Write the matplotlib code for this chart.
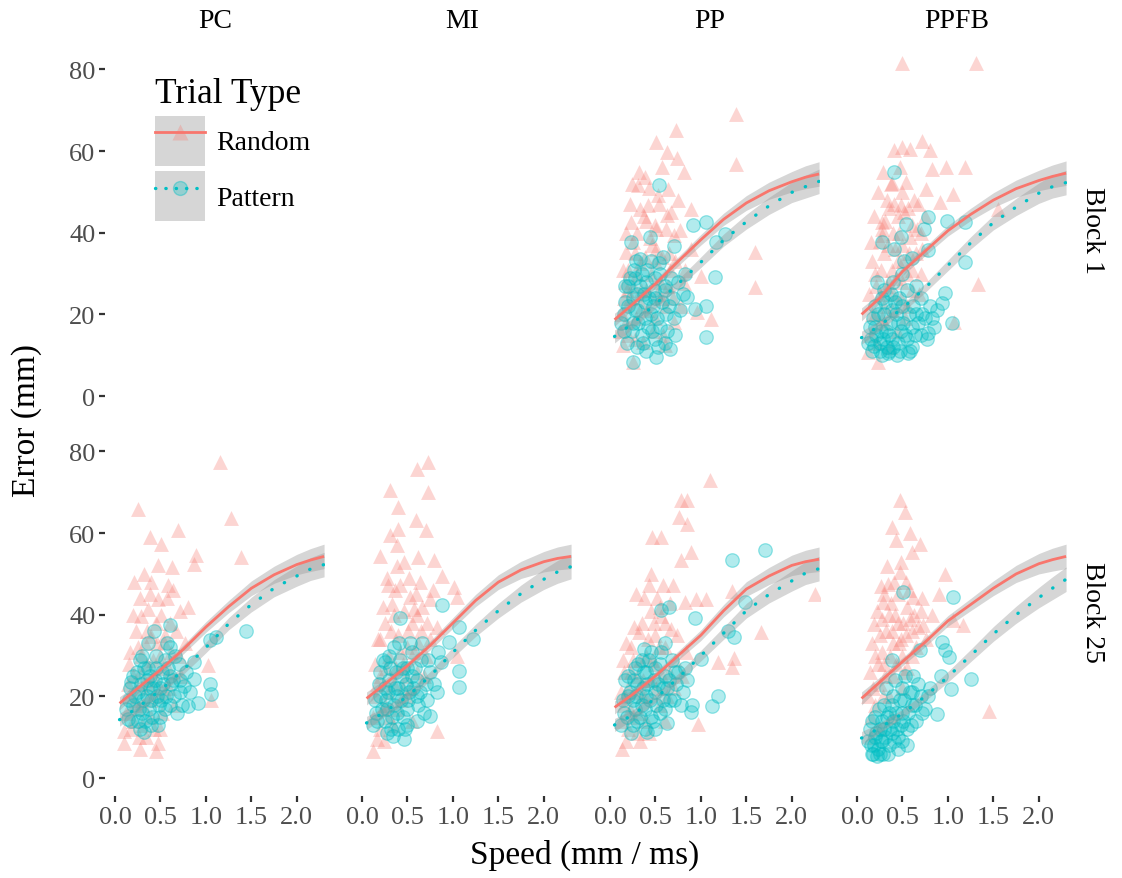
import numpy as np
import matplotlib
matplotlib.use('Agg')
import matplotlib.pyplot as plt
from matplotlib.patches import Patch
from matplotlib.lines import Line2D
from matplotlib.legend_handler import HandlerTuple

plt.rcParams['font.family'] = ['Liberation Serif', 'DejaVu Serif']

RED = '#F8766D'
CYAN = '#00BFC4'

columns = ['PC', 'MI', 'PP', 'PPFB']
rows = ['Block 1', 'Block 25']
x_ticks = [0.0, 0.5, 1.0, 1.5, 2.0]
y_ticks = [0, 20, 40, 60, 80]

# (speed, error) points
pp1_random = [(1.39, 69.2), (0.73, 65.1), (0.51, 62.3), (0.63, 59.8), (0.74, 58.2), (1.39, 56.9), (0.81, 54.9),
              (0.57, 56.2), (0.38, 53.7), (0.31, 51.6), (0.53, 49.2), (0.64, 50.8), (0.89, 45.9), (0.33, 45.9),
              (0.63, 44.3), (0.23, 42.6), (0.51, 41.0), (0.77, 40.6), (1.60, 35.3), (1.60, 26.8), (1.11, 18.9),
              (0.96, 20.5), (1.00, 29.4), (0.18, 35.3), (0.16, 28.0), (0.14, 12.5), (0.25, 8.4), (0.36, 13.3),
              (0.51, 36.1), (0.70, 39.4), (0.44, 38.6), (0.25, 37.7), (0.66, 31.0), (0.81, 27.6), (0.33, 32.7),
              (0.56, 23.9), (0.22, 23.9), (0.70, 18.2), (0.89, 36.1), (0.42, 46.7), (0.18, 18.2), (0.61, 12.5),
              (0.12, 20), (0.2, 15), (0.3, 30), (0.4, 26), (0.5, 33), (0.35, 22), (0.45, 30), (0.55, 28),
              (0.25, 27), (0.15, 24), (0.6, 22), (0.65, 35), (0.3, 40), (0.4, 43), (0.2, 31), (0.5, 19),
              (0.14, 31), (0.18, 40), (0.22, 47), (0.27, 35), (0.29, 19), (0.32, 55), (0.34, 26), (0.37, 44),
              (0.39, 34), (0.41, 21), (0.43, 51), (0.46, 37), (0.47, 16), (0.49, 42), (0.52, 25), (0.54, 47),
              (0.57, 34), (0.58, 15), (0.62, 41), (0.64, 27), (0.67, 45), (0.69, 24), (0.72, 33), (0.75, 48),
              (0.78, 22), (0.83, 31), (0.24, 52), (0.28, 14), (0.19, 26), (0.11, 16)]
pp1_pattern = [(0.54, 51.6), (1.06, 42.6), (0.91, 41.8), (1.17, 37.7), (1.26, 39.7), (1.15, 29.1), (1.06, 22.1),
               (1.06, 14.4), (0.23, 37.7), (0.44, 38.9), (0.25, 8.4), (0.51, 9.5), (0.66, 11.6), (0.93, 21.3),
               (0.85, 24.2), (0.33, 33.5), (0.54, 32.7), (0.70, 36.8), (0.15, 20), (0.2, 22), (0.25, 18),
               (0.3, 25), (0.35, 15), (0.4, 28), (0.45, 20), (0.5, 24), (0.55, 17), (0.6, 27), (0.65, 22),
               (0.7, 19), (0.2, 27), (0.3, 12), (0.4, 11), (0.35, 30), (0.45, 33), (0.55, 30), (0.15, 16),
               (0.25, 24), (0.5, 14), (0.6, 13), (0.75, 28), (0.8, 25), (0.3, 21), (0.42, 17), (0.48, 26),
               (0.38, 23), (0.62, 20), (0.28, 29), (0.12, 18), (0.17, 23), (0.19, 13), (0.22, 29), (0.24, 16),
               (0.27, 21), (0.29, 33), (0.31, 18), (0.33, 27), (0.36, 13), (0.37, 25), (0.39, 19), (0.41, 31),
               (0.43, 24), (0.46, 16), (0.47, 22), (0.49, 29), (0.52, 19), (0.53, 12), (0.57, 23), (0.58, 34),
               (0.61, 26), (0.63, 16), (0.67, 29), (0.69, 24), (0.72, 15), (0.77, 21), (0.82, 30), (0.16, 27),
               (0.26, 31)]
ppfb1_random = [(0.50, 81.5), (1.31, 81.5), (0.50, 61.0), (0.72, 62.4), (0.41, 60.2), (0.80, 60.2), (0.58, 60.6),
                (0.82, 55.7), (0.98, 56.1), (1.19, 56.1), (0.38, 52.1), (0.54, 52.4), (0.76, 50.8), (1.06, 49.6),
                (0.91, 47.5), (0.48, 46.7), (0.67, 47.1), (0.27, 42.6), (0.28, 39.4), (0.15, 37.7), (1.55, 45.9),
                (1.33, 27.5), (1.07, 18.1), (0.12, 10.7), (0.23, 8.3), (0.2, 30), (0.3, 35), (0.35, 28),
                (0.4, 40), (0.45, 33), (0.5, 37), (0.55, 30), (0.6, 42), (0.25, 25), (0.3, 22), (0.4, 25),
                (0.5, 28), (0.45, 44), (0.35, 46), (0.65, 35), (0.7, 30), (0.2, 20), (0.15, 15), (0.3, 18),
                (0.55, 22), (0.6, 26), (0.25, 38), (0.38, 31), (0.48, 24), (0.42, 36), (0.28, 41), (0.52, 45),
                (0.58, 39), (0.33, 48), (0.7, 40), (0.22, 13), (0.36, 12), (0.13, 25), (0.17, 33), (0.19, 44),
                (0.21, 27), (0.23, 50), (0.26, 31), (0.27, 19), (0.31, 43), (0.32, 27), (0.34, 37), (0.37, 52),
                (0.39, 21), (0.41, 47), (0.43, 29), (0.44, 16), (0.46, 40), (0.49, 50), (0.51, 33), (0.53, 19),
                (0.56, 46), (0.57, 35), (0.61, 31), (0.63, 48), (0.66, 41), (0.68, 25), (0.72, 36), (0.75, 44),
                (0.16, 20), (0.29, 55), (0.47, 56)]
ppfb1_pattern = [(0.41, 54.9), (0.78, 43.8), (0.99, 43.0), (1.19, 42.6), (0.54, 42.2), (0.74, 41.0), (0.48, 38.9),
                 (0.28, 37.7), (0.41, 36.1), (0.60, 33.7), (1.19, 32.9), (0.78, 35.7), (0.97, 25.3), (0.93, 22.8),
                 (1.04, 17.9), (0.78, 15.4), (0.56, 10.5), (0.34, 10.5), (0.19, 12.2), (0.15, 14), (0.2, 17),
                 (0.25, 13), (0.3, 20), (0.35, 15), (0.4, 12), (0.45, 18), (0.5, 22), (0.55, 14), (0.6, 17),
                 (0.65, 20), (0.7, 24), (0.75, 19), (0.8, 22), (0.3, 26), (0.4, 28), (0.5, 30), (0.2, 22),
                 (0.25, 11), (0.35, 11), (0.45, 13), (0.6, 12), (0.7, 15), (0.85, 17), (0.55, 26), (0.65, 27),
                 (0.42, 23), (0.18, 19), (0.32, 16), (0.48, 16), (0.38, 21), (0.28, 24), (0.12, 13), (0.14, 17),
                 (0.17, 11), (0.21, 15), (0.23, 20), (0.26, 16), (0.27, 10), (0.29, 14), (0.31, 23), (0.33, 12),
                 (0.36, 18), (0.37, 25), (0.39, 14), (0.43, 20), (0.44, 10), (0.46, 24), (0.47, 11), (0.51, 18),
                 (0.53, 15), (0.57, 20), (0.58, 11), (0.62, 22), (0.64, 15), (0.67, 18), (0.72, 20), (0.77, 14),
                 (0.82, 19), (0.88, 21), (0.52, 33), (0.22, 28)]
pc25_random = [(1.16, 77.5), (0.25, 66.0), (1.28, 63.6), (0.69, 60.7), (0.38, 59.1), (0.51, 57.4), (0.89, 54.6),
               (1.39, 54.2), (0.87, 52.5), (0.47, 52.1), (0.63, 51.7), (0.21, 48.0), (0.40, 48.0), (0.58, 47.2),
               (0.47, 43.9), (0.71, 41.0), (0.80, 41.9), (0.29, 39.8), (0.36, 41.5), (1.02, 27.6), (1.06, 19.0),
               (0.10, 8.7), (0.27, 7.1), (0.45, 6.7), (0.47, 8.7), (0.10, 11.6), (0.40, 34.9), (0.29, 30.0),
               (0.54, 33.3), (0.15, 20), (0.2, 25), (0.25, 17), (0.3, 22), (0.35, 28), (0.4, 19), (0.45, 24),
               (0.5, 30), (0.55, 21), (0.6, 26), (0.65, 18), (0.2, 14), (0.3, 13), (0.4, 15), (0.5, 12),
               (0.35, 36), (0.45, 38), (0.55, 35), (0.25, 32), (0.7, 30), (0.6, 38), (0.15, 28), (0.12, 16),
               (0.14, 23), (0.17, 31), (0.18, 12), (0.22, 19), (0.23, 36), (0.27, 26), (0.28, 44), (0.31, 18),
               (0.33, 33), (0.34, 10), (0.37, 23), (0.39, 45), (0.42, 29), (0.43, 12), (0.46, 33), (0.48, 20),
               (0.51, 40), (0.53, 27), (0.57, 44), (0.59, 22), (0.62, 31), (0.64, 46), (0.67, 36), (0.73, 25),
               (0.77, 33), (0.2, 40), (0.32, 50), (0.26, 10), (0.52, 16)]
pc25_pattern = [(1.44, 36.1), (1.11, 34.5), (1.04, 33.7), (0.60, 37.4), (0.43, 36.1), (1.04, 23.1), (1.06, 20.6),
                (0.91, 18.5), (0.80, 17.7), (0.87, 24.3), (0.76, 22.6), (0.18, 23.5), (0.32, 11.2), (0.14, 14.5),
                (0.87, 28.5), (0.2, 18), (0.25, 21), (0.3, 16), (0.35, 24), (0.4, 19), (0.45, 27), (0.5, 22),
                (0.55, 17), (0.6, 25), (0.65, 20), (0.7, 28), (0.3, 30), (0.4, 13), (0.5, 15), (0.25, 14),
                (0.35, 20), (0.45, 30), (0.55, 29), (0.2, 25), (0.6, 32), (0.15, 19), (0.38, 25), (0.48, 18),
                (0.28, 12), (0.42, 22), (0.52, 26), (0.32, 27), (0.62, 23), (0.68, 16), (0.72, 21), (0.12, 17),
                (0.16, 22), (0.18, 14), (0.22, 20), (0.24, 26), (0.26, 17), (0.29, 23), (0.31, 19), (0.33, 14),
                (0.36, 27), (0.37, 17), (0.39, 22), (0.41, 15), (0.44, 24), (0.46, 20), (0.47, 13), (0.51, 19),
                (0.53, 23), (0.56, 20), (0.58, 27), (0.61, 18), (0.64, 24), (0.66, 30), (0.71, 24), (0.74, 18),
                (0.78, 26), (0.82, 21), (0.36, 33), (0.27, 29), (0.57, 33)]
mi25_random = [(0.73, 77.5), (0.61, 75.8), (0.31, 70.5), (0.73, 70.1), (0.40, 66.4), (0.59, 63.2), (0.70, 60.7),
               (0.40, 61.1), (0.31, 59.5), (0.38, 57.0), (0.20, 54.5), (0.62, 54.2), (0.46, 52.9), (0.79, 53.3),
               (0.88, 49.6), (0.29, 47.2), (0.42, 47.2), (0.64, 48.0), (1.01, 46.8), (0.75, 43.9), (1.05, 44.3),
               (0.33, 42.6), (0.53, 44.3), (0.57, 41.5), (0.20, 34.1), (0.83, 11.6), (0.12, 6.7), (0.16, 9.6),
               (1.05, 30.0), (0.15, 20), (0.2, 25), (0.25, 18), (0.3, 30), (0.35, 23), (0.4, 35), (0.45, 28),
               (0.5, 32), (0.55, 38), (0.6, 26), (0.65, 36), (0.7, 30), (0.25, 38), (0.3, 15), (0.4, 17),
               (0.5, 20), (0.35, 40), (0.45, 22), (0.6, 40), (0.2, 12), (0.55, 14), (0.75, 34), (0.12, 15),
               (0.14, 28), (0.17, 23), (0.18, 34), (0.22, 17), (0.23, 42), (0.26, 27), (0.27, 49), (0.29, 21),
               (0.32, 36), (0.34, 13), (0.36, 46), (0.37, 27), (0.39, 52), (0.42, 31), (0.43, 19), (0.46, 41),
               (0.48, 25), (0.51, 36), (0.52, 49), (0.54, 22), (0.57, 31), (0.59, 45), (0.62, 33), (0.66, 42),
               (0.68, 25), (0.72, 38), (0.78, 46), (0.82, 37), (0.24, 9)]
mi25_pattern = [(0.88, 42.3), (0.42, 39.1), (1.22, 34.1), (1.07, 37.0), (1.07, 26.3), (1.07, 22.2), (0.96, 33.3),
                (0.87, 28.4), (0.83, 21.0), (0.75, 15.3), (0.46, 9.6), (0.34, 10.4), (0.25, 28.4), (0.15, 16),
                (0.2, 20), (0.25, 14), (0.3, 24), (0.35, 18), (0.4, 22), (0.45, 27), (0.5, 17), (0.55, 25),
                (0.6, 20), (0.65, 29), (0.7, 23), (0.3, 30), (0.4, 12), (0.5, 13), (0.2, 26), (0.35, 32),
                (0.45, 15), (0.55, 31), (0.6, 14), (0.25, 22), (0.75, 26), (0.38, 20), (0.48, 23), (0.28, 17),
                (0.62, 18), (0.42, 29), (0.52, 21), (0.32, 12), (0.68, 16), (0.12, 13), (0.14, 19), (0.17, 14),
                (0.19, 23), (0.22, 17), (0.23, 29), (0.26, 19), (0.27, 11), (0.29, 21), (0.31, 27), (0.33, 15),
                (0.36, 22), (0.37, 26), (0.39, 16), (0.41, 33), (0.43, 19), (0.44, 25), (0.47, 12), (0.49, 27),
                (0.51, 19), (0.53, 33), (0.56, 22), (0.58, 27), (0.61, 24), (0.64, 21), (0.66, 33), (0.71, 19),
                (0.73, 29), (0.79, 23), (0.84, 31)]
pp25_random = [(1.10, 73.0), (0.78, 68.0), (0.85, 68.0), (0.76, 64.0), (0.85, 62.3), (0.46, 59.0), (0.56, 59.0),
               (0.89, 55.4), (0.78, 53.3), (0.45, 50.0), (0.58, 47.2), (0.69, 47.2), (0.43, 47.2), (0.95, 43.9),
               (1.06, 43.9), (1.34, 45.9), (2.25, 45.1), (1.66, 35.7), (1.36, 29.5), (1.19, 28.4), (1.34, 27.2),
               (0.97, 13.2), (0.32, 35.7), (0.23, 32.0), (0.15, 25.9), (0.13, 7.1), (0.33, 9.1), (0.56, 39.8),
               (0.67, 36.5), (0.82, 43.1), (0.15, 18), (0.2, 22), (0.25, 15), (0.3, 25), (0.35, 20), (0.4, 30),
               (0.45, 24), (0.5, 28), (0.55, 18), (0.6, 32), (0.65, 26), (0.2, 12), (0.3, 11), (0.4, 14),
               (0.5, 35), (0.35, 38), (0.45, 41), (0.25, 29), (0.7, 22), (0.6, 14), (0.12, 21), (0.55, 42),
               (0.12, 14), (0.14, 29), (0.17, 20), (0.18, 33), (0.22, 17), (0.23, 26), (0.26, 37), (0.27, 21),
               (0.29, 45), (0.32, 16), (0.33, 29), (0.36, 24), (0.37, 44), (0.39, 20), (0.42, 34), (0.43, 11),
               (0.46, 29), (0.48, 38), (0.51, 22), (0.52, 44), (0.54, 32), (0.57, 25), (0.61, 38), (0.63, 20),
               (0.66, 43), (0.72, 29), (0.74, 35), (0.79, 25), (0.84, 31), (0.18, 9)]
pp25_pattern = [(1.71, 55.8), (1.34, 53.4), (1.49, 43.1), (0.93, 39.1), (0.65, 41.9), (0.56, 41.1), (1.36, 34.5),
                (1.30, 36.1), (1.19, 20.2), (1.12, 17.7), (1.00, 29.2), (0.37, 31.6), (0.89, 16.1), (0.63, 13.6),
                (0.41, 11.2), (0.15, 16), (0.2, 20), (0.25, 13), (0.3, 23), (0.35, 18), (0.4, 26), (0.45, 15),
                (0.5, 21), (0.55, 28), (0.6, 17), (0.65, 24), (0.7, 19), (0.75, 26), (0.8, 21), (0.3, 14),
                (0.4, 20), (0.5, 12), (0.2, 25), (0.35, 29), (0.45, 31), (0.55, 16), (0.6, 33), (0.25, 19),
                (0.85, 24), (0.9, 18), (0.28, 27), (0.48, 24), (0.68, 29), (0.38, 12), (0.58, 22), (0.12, 13),
                (0.14, 19), (0.17, 24), (0.19, 15), (0.22, 21), (0.23, 11), (0.26, 24), (0.27, 17), (0.29, 20),
                (0.31, 28), (0.33, 15), (0.36, 22), (0.37, 26), (0.39, 17), (0.41, 23), (0.43, 29), (0.44, 19),
                (0.47, 14), (0.49, 27), (0.51, 18), (0.53, 23), (0.56, 31), (0.58, 19), (0.61, 25), (0.63, 22),
                (0.66, 19), (0.71, 26), (0.73, 23), (0.78, 18), (0.83, 27)]
ppfb25_random = [(0.47, 68.1), (0.53, 65.2), (0.38, 61.6), (0.58, 60.0), (0.43, 58.3), (0.69, 57.4), (0.60, 55.4),
                 (0.97, 50.0), (0.47, 50.4), (0.34, 47.6), (0.54, 48.0), (0.90, 45.1), (0.29, 43.1), (0.62, 44.3),
                 (1.17, 37.4), (1.06, 38.6), (0.73, 37.4), (1.45, 16.5), (0.19, 37.8), (0.2, 30), (0.25, 35),
                 (0.3, 28), (0.35, 40), (0.4, 33), (0.45, 38), (0.5, 30), (0.55, 42), (0.6, 36), (0.3, 45),
                 (0.4, 25), (0.5, 22), (0.45, 45), (0.25, 23), (0.2, 18), (0.35, 20), (0.15, 15), (0.65, 32),
                 (0.55, 27), (0.7, 41), (0.38, 36), (0.48, 34), (0.28, 39), (0.58, 39), (0.15, 10), (0.25, 12),
                 (0.12, 20), (0.14, 26), (0.17, 33), (0.18, 22), (0.22, 41), (0.23, 28), (0.26, 47), (0.27, 31),
                 (0.29, 20), (0.32, 36), (0.33, 52), (0.36, 30), (0.37, 43), (0.39, 15), (0.42, 40), (0.43, 28),
                 (0.46, 33), (0.48, 53), (0.51, 38), (0.52, 26), (0.54, 35), (0.57, 46), (0.61, 30), (0.63, 40),
                 (0.67, 37), (0.72, 44), (0.76, 34), (0.82, 40), (0.31, 25), (0.41, 48)]
ppfb25_pattern = [(0.51, 45.6), (1.06, 44.3), (0.93, 33.3), (0.97, 31.3), (1.01, 29.7), (1.25, 24.3), (1.03, 21.9),
                  (0.92, 25.1), (0.69, 31.3), (0.38, 28.8), (0.88, 15.7), (0.15, 8), (0.2, 10), (0.25, 6),
                  (0.3, 12), (0.35, 8), (0.4, 14), (0.45, 10), (0.5, 16), (0.55, 12), (0.6, 18), (0.65, 14),
                  (0.7, 20), (0.2, 15), (0.3, 18), (0.4, 20), (0.5, 22), (0.25, 12), (0.35, 16), (0.45, 7),
                  (0.55, 8), (0.18, 6), (0.28, 9), (0.38, 11), (0.48, 13), (0.58, 21), (0.62, 25), (0.75, 17),
                  (0.8, 22), (0.42, 24), (0.32, 22), (0.22, 5.5), (0.52, 19), (0.12, 9), (0.14, 12), (0.16, 6),
                  (0.17, 14), (0.19, 8), (0.21, 11), (0.23, 7), (0.24, 17), (0.26, 9), (0.27, 14), (0.29, 6),
                  (0.31, 10), (0.33, 15), (0.34, 6), (0.36, 12), (0.38, 18), (0.41, 9), (0.43, 16), (0.44, 12),
                  (0.47, 19), (0.49, 9), (0.51, 14), (0.53, 25), (0.56, 16), (0.59, 13), (0.61, 21), (0.64, 18),
                  (0.67, 23), (0.71, 16), (0.78, 20)]

# fitted curves, read at these speeds
fit_x = [0.05, 0.25, 0.5, 0.75, 1.0, 1.25, 1.5, 1.75, 2.0, 2.15, 2.3]
band_hw = [1.6, 1.2, 1.0, 1.1, 1.3, 1.5, 1.8, 2.1, 2.5, 2.8, 3.0]
pp1_fit_random = [18.7, 22.5, 27.5, 33, 38.3, 43.3, 47.3, 50.3, 52.5, 53.6, 54.4]
pp1_fit_pattern = [14.6, 17.8, 22.5, 27.5, 32.8, 38.2, 42.7, 46.6, 49.9, 51.3, 52.6]
ppfb1_fit_random = [20, 24, 30.5, 35.5, 40.5, 44.5, 48, 50.8, 52.8, 53.8, 54.6]
ppfb1_fit_pattern = [14.3, 17.3, 21.5, 26.5, 32, 37.5, 42.5, 46.3, 49.7, 51.3, 52.3]
pc25_fit_random = [18.3, 22, 26.5, 31.5, 37, 42, 46.5, 49.8, 52.3, 53.4, 54.3]
pc25_fit_pattern = [14.3, 17.3, 21.5, 26.5, 32, 37.8, 42.5, 46.5, 49.5, 51.2, 52.3]
mi25_fit_random = [19.5, 23, 27.5, 32.5, 38, 43.5, 48, 51, 53, 53.8, 54.3]
mi25_fit_pattern = [13.5, 16.2, 20, 25, 30.8, 36.2, 41, 45.2, 48.7, 50.5, 51.8]
pp25_fit_random = [17.3, 20.5, 25, 30, 35, 41, 46.3, 49.5, 52.1, 53, 53.6]
pp25_fit_pattern = [13, 15.5, 19.5, 24.5, 30, 35.5, 41, 45, 48.3, 50.2, 51.3]
ppfb25_fit_random = [19.5, 23.5, 28.5, 33.3, 38.5, 42.5, 46.5, 50, 52.5, 53.5, 54.3]
ppfb25_fit_pattern = [9.8, 12.3, 15.8, 20, 24.8, 30, 35.3, 40, 44.2, 46.5, 48.7]

# (column, row) -> data for that facet
panels = {
    (2, 0): (pp1_random, pp1_pattern, pp1_fit_random, pp1_fit_pattern),
    (3, 0): (ppfb1_random, ppfb1_pattern, ppfb1_fit_random, ppfb1_fit_pattern),
    (0, 1): (pc25_random, pc25_pattern, pc25_fit_random, pc25_fit_pattern),
    (1, 1): (mi25_random, mi25_pattern, mi25_fit_random, mi25_fit_pattern),
    (2, 1): (pp25_random, pp25_pattern, pp25_fit_random, pp25_fit_pattern),
    (3, 1): (ppfb25_random, ppfb25_pattern, ppfb25_fit_random, ppfb25_fit_pattern),
}

W, H = 1122, 879
fig = plt.figure(figsize=(W / 100, H / 100), dpi=100)
col_left = [105, 352, 600, 847]
row_top = [46, 428]
pw, ph = 220, 369

red_a = (0.973, 0.463, 0.427, 0.3)
cyan_a = (0.0, 0.749, 0.769, 0.3)
cyan_edge = (0.0, 0.749, 0.769, 0.4)
fx = np.array(fit_x)
hw = np.array(band_hw)


def make_axes(col, row):
    ax = fig.add_axes([col_left[col] / W, 1 - (row_top[row] + ph) / H, pw / W, ph / H])
    ax.set_xlim(-0.11, 2.31)
    ax.set_ylim(-4.4, 86)
    ax.set_facecolor('none')
    for s in ax.spines.values():
        s.set_visible(False)
    ax.tick_params(length=4, width=1.6, color='#333333', labelcolor='#4D4D4D', labelsize=19, pad=3)
    if row == 1:
        ax.set_xticks(x_ticks)
        ax.set_xticklabels([f"{t:.1f}" for t in x_ticks])
    else:
        ax.set_xticks([])
    if col == 0:
        ax.set_yticks(y_ticks)
        ax.set_yticklabels([str(t) for t in y_ticks])
    else:
        ax.set_yticks([])
    return ax


for (col, row), (rand, patt, fit_r, fit_p) in panels.items():
    ax = make_axes(col, row)
    r = np.array(rand)
    p = np.array(patt)
    ax.scatter(r[:, 0], r[:, 1], marker='^', s=115, color=red_a, linewidths=0)
    ax.scatter(p[:, 0], p[:, 1], marker='o', s=95, facecolor=cyan_a, edgecolor=cyan_edge, linewidths=0.9)
    for fit, colr, ls in [(fit_r, RED, '-'), (fit_p, CYAN, (0, (0.1, 4.2)))]:
        y = np.array(fit)
        ax.fill_between(fx, y - hw, y + hw, color='#999999', alpha=0.4, lw=0)
        ax.plot(fx, y, color=colr, lw=2.0 if ls == '-' else 2.4, linestyle=ls,
                dash_capstyle='round', solid_capstyle='butt')

# empty PC / Block 1 facet keeps the y axis and holds the legend
ax0 = make_axes(0, 0)
key_bg = '#D6D6D6'
h_random = (Patch(facecolor=key_bg, edgecolor='none'),
            Line2D([], [], color=RED, lw=2.0, marker='^', markersize=11,
                   markerfacecolor=red_a, markeredgecolor='none'))
h_pattern = (Patch(facecolor=key_bg, edgecolor='none'),
             Line2D([], [], color=CYAN, lw=2.4, linestyle=(0, (0.1, 3.0)), dash_capstyle='round',
                    marker='o', markersize=10, markerfacecolor=cyan_a, markeredgecolor=cyan_edge))
leg = ax0.legend([h_random, h_pattern], ['Random', 'Pattern'], title='Trial Type',
                 handler_map={tuple: HandlerTuple(ndivide=1, pad=0)},
                 loc='upper left', bbox_to_anchor=(155 / W, 1 - 78 / H), bbox_transform=fig.transFigure,
                 frameon=False, fontsize=20, title_fontsize=25.5, alignment='left',
                 handlelength=1.8, handleheight=2.4, labelspacing=0.2, handletextpad=0.4,
                 borderpad=0, borderaxespad=0)

# facet strips
for i, name in enumerate(columns):
    fig.text((col_left[i] + pw / 2) / W, 1 - 22 / H, name, ha='center', va='center', fontsize=20)
for j, name in enumerate(rows):
    fig.text(1093 / W, 1 - (row_top[j] + ph / 2) / H, name, ha='center', va='center',
             rotation=-90, fontsize=20)

fig.text(27 / W, 1 - 421 / H, 'Error (mm)', rotation=90, ha='center', va='center', fontsize=24)
fig.text(585 / W, 1 - 855 / H, 'Speed (mm / ms)', ha='center', va='center', fontsize=24)

fig.savefig('out.png', dpi=100)
plt.close(fig)
